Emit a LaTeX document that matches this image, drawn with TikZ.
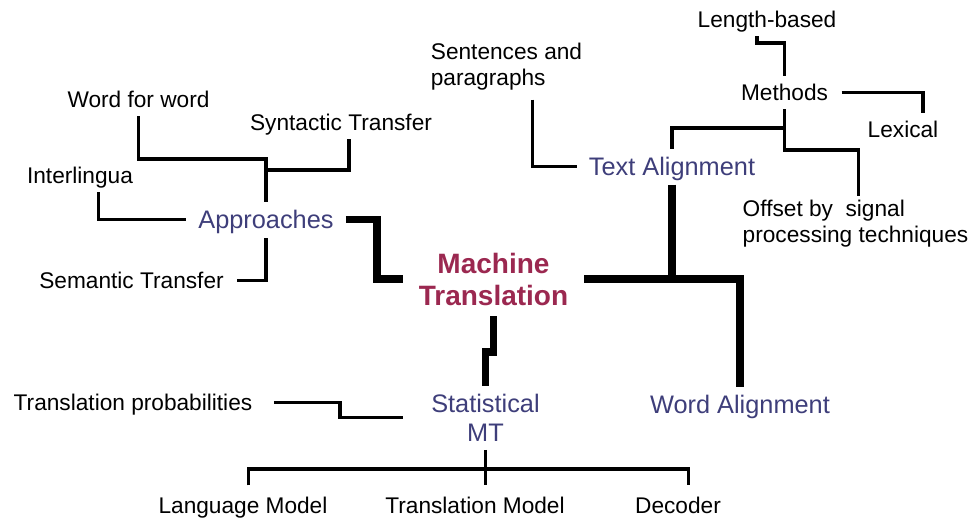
\documentclass[tikz,border=0pt]{standalone}
\usepackage{fontspec}
\setmainfont{Liberation Sans}
\definecolor{branchblue}{RGB}{62,62,122}
\definecolor{rootred}{RGB}{155,40,80}
\begin{document}
\begin{tikzpicture}[x=0.75pt, y=-0.75pt,
  leafnode/.style={font=\fontsize{17}{18.75}\selectfont, text height=15pt, text depth=3.6pt, inner xsep=10pt, inner ysep=3pt},
  leaftwo/.style={font=\fontsize{17}{19.5}\selectfont, align=left, inner xsep=10pt, inner ysep=3pt},
  branchnode/.style={font=\fontsize{19}{22}\selectfont, text=branchblue, text height=16.5pt, text depth=4pt, inner xsep=9pt, inner ysep=3pt},
  branchtwo/.style={font=\fontsize{19}{21.75}\selectfont, text=branchblue, align=center, inner xsep=9pt, inner ysep=6pt},
  rootnode/.style={font=\fontsize{21}{24}\selectfont\bfseries, text=rootred, align=center, inner xsep=12pt, inner ysep=8pt},
  thinlink/.style={line width=2.4pt},
  thicklink/.style={line width=5.4pt}]
\useasboundingbox (0,0) rectangle (973,521);
\node[rootnode] (mt) at (493.5, 279) {Machine\\Translation};
\node[branchnode] (appr) at (266, 219.7) {Approaches};
\node[branchnode] (talign) at (672, 166.7) {Text Alignment};
\node[branchnode] (walign) at (740, 404.7) {Word Alignment};
\node[branchtwo] (smt) at (485.5, 417.8) {Statistical\\MT};
\node[leafnode] (len) at (767, 19.4) {Length-based};
\node[leaftwo] (sent) at (506.5, 66.5) {Sentences and\\paragraphs};
\node[leafnode] (meth) at (784.5, 92.4) {Methods};
\node[leafnode] (lex) at (903, 129.4) {Lexical};
\node[leaftwo] (off) at (855.5, 223.6) {Offset by\ \ signal\\processing techniques};
\node[leafnode] (wfw) at (138.5, 99.4) {Word for word};
\node[leafnode] (syn) at (341, 122.4) {Syntactic Transfer};
\node[leafnode] (inter) at (80, 175.4) {Interlingua};
\node[leafnode] (sem) at (131.5, 280.4) {Semantic Transfer};
\node[leafnode] (prob) at (133, 402.4) {Translation probabilities};
\node[leafnode] (lm) at (243, 506) {Language Model};
\node[leafnode] (tm) at (475, 506) {Translation Model};
\node[leafnode] (dec) at (678, 506) {Decoder};
\coordinate (apj) at (266, 159);
\coordinate (apj2) at (266, 170);
\coordinate (amj) at (377, 279);
\coordinate (smj) at (485.5, 352);
\coordinate (pj) at (340, 410);
\coordinate (lj) at (784.5, 43);
\coordinate (mj) at (784.5, 128);
\coordinate (oj) at (784.5, 150);
\coordinate (bus) at (486, 469);
\draw[thinlink] (wfw.south) |- (apj) -- (appr.north);
\draw[thinlink] ([xshift=6pt]syn.south) |- (apj2);
\draw[thinlink] ([xshift=14pt]inter.south) |- (appr.west);
\draw[thinlink] (sem.east) -| (appr.south);
\draw[thicklink] (appr.east) -| (amj) -- (mt.west);
\draw[thicklink] (mt.east) -| (walign.north);
\draw[thicklink] (talign.south) -- (talign.south |- mt.east);
\draw[thicklink] (mt.south) |- (smj) -- (smt.north);
\draw[thinlink, shorten <=6pt, shorten >=12pt] (prob.east) -| (pj) |- (smt.west);
\draw[thinlink, shorten >=3pt] (smt.south) -- (smt.south |- tm.north);
\draw[thinlink, shorten <=3pt, shorten >=3pt] ([xshift=4pt]lm.north) |- (bus) -| ([xshift=8pt]dec.north);
\draw[thinlink, shorten <=4pt] ([xshift=19.5pt]sent.south) |- (talign.west);
\draw[thinlink] (meth.south) -- (mj) -| (talign.north);
\draw[thinlink] (mj) -- (oj) -| ([xshift=2.5pt]off.north);
\draw[thinlink] (meth.east) -| ([xshift=15pt]lex.north);
\draw[thinlink] ([xshift=-7.5pt]len.south) |- (lj) -- (meth.north);
\end{tikzpicture}
\end{document}
